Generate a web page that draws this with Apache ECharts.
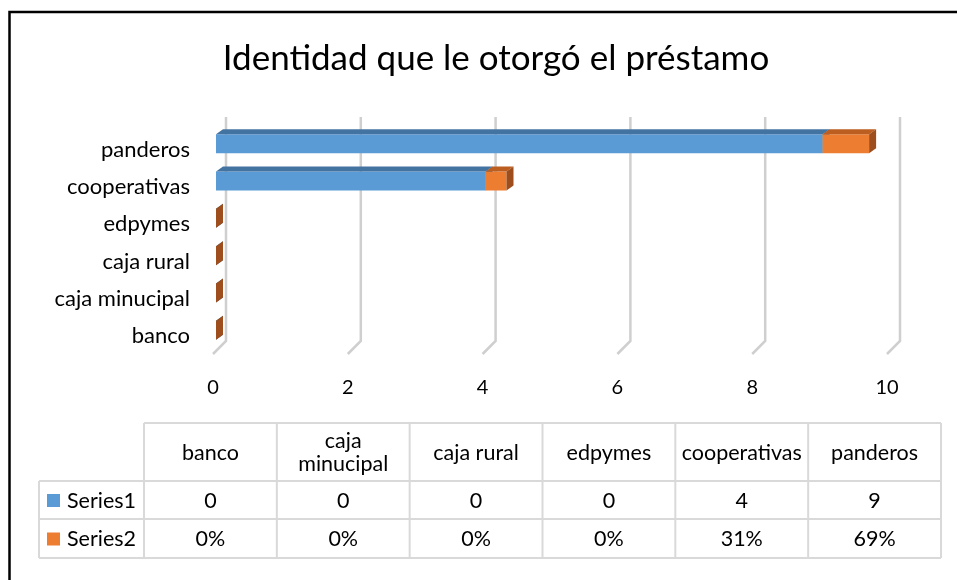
<!DOCTYPE html>
<html>
<head>
<meta charset="utf-8">
<script src="https://cdn.jsdelivr.net/npm/echarts@6/dist/echarts.min.js"></script>
<style>
  html, body { margin: 0; padding: 0; background: #fff; }
  #chart { width: 957px; height: 580px; }
</style>
</head>
<body>
<div id="chart"></div>
<script>
// datos del gráfico
const categories = ["banco", "caja minucipal", "caja rural", "edpymes", "cooperativas", "panderos"];
const tableHeaders = ["banco", "caja\nminucipal", "caja rural", "edpymes", "cooperativas", "panderos"];
const series1 = [0, 0, 0, 0, 4, 9];
const series2 = [0, 0, 0, 0, 0.31, 0.69];
const xTicks = [0, 2, 4, 6, 8, 10];
const seriesNames = ["Series1", "Series2"];

const FONT = "Lato";
const colors = {
  s1: { front: "#5b9bd5", top: "#4374a1", side: "#3d6b96" },
  s2: { front: "#ed7d31", top: "#bb5e20", side: "#9d4e1c" }
};

const chart = echarts.init(document.getElementById("chart"));

// barra 3D: cara frontal + cara superior + lateral
function makeBarRender(c) {
  return function(params, api) {
    const start = api.value(0);
    const end = api.value(1);
    const cat = api.value(2);
    const p0 = api.coord([start, cat]);
    const p1 = api.coord([end, cat]);
    const x0 = p0[0] + 3, x1 = p1[0] + 3;
    const top = p0[1] - 15.5, h = 19, dx = 7, dy = -5;
    return {
      type: "group",
      children: [
        { type: "rect", shape: { x: x0, y: top, width: x1 - x0, height: h }, style: { fill: c.front } },
        { type: "polygon", shape: { points: [[x0, top], [x1, top], [x1 + dx, top + dy], [x0 + dx, top + dy]] }, style: { fill: c.top } },
        { type: "polygon", shape: { points: [[x1, top], [x1 + dx, top + dy], [x1 + dx, top + dy + h], [x1, top + h]] }, style: { fill: c.side } }
      ]
    };
  };
}

// líneas de división en la pared del fondo
function gridRender(params, api) {
  const cs = params.coordSys;
  const p = api.coord([api.value(0), 0]);
  const x = p[0];
  const yb = cs.y + cs.height;
  return {
    type: "polyline",
    shape: { points: [[x + 13, cs.y - 14], [x + 13, yb - 14], [x, yb - 1]] },
    style: { stroke: "#cfcfcf", lineWidth: 2.5, fill: null }
  };
}

// tabla de datos
const tbl = { left: 39, first: 144, right: 941, top: 423, rows: [481, 519, 558] };
const colW = (tbl.right - tbl.first) / categories.length;
const lineStyle = { stroke: "#d9d9d9", lineWidth: 2 };
const tableEls = [];
function hline(x1, x2, y) {
  tableEls.push({ type: "line", shape: { x1, y1: y, x2, y2: y }, style: lineStyle });
}
function vline(x, y1, y2) {
  tableEls.push({ type: "line", shape: { x1: x, y1, x2: x, y2 }, style: lineStyle });
}
function cellText(text, cx, cy, align) {
  tableEls.push({
    type: "text",
    style: { text, x: cx, y: cy, align: align || "center", verticalAlign: "middle", font: "21.5px " + FONT, fill: "#000", lineHeight: 23 }
  });
}
hline(tbl.first, tbl.right, tbl.top);
hline(tbl.left, tbl.right, tbl.rows[0]);
hline(tbl.left, tbl.right, tbl.rows[1]);
hline(tbl.left, tbl.right, tbl.rows[2]);
vline(tbl.left, tbl.rows[0], tbl.rows[2]);
for (let i = 0; i <= categories.length; i++) {
  vline(tbl.first + i * colW, tbl.top, tbl.rows[2]);
}
tableHeaders.forEach((h, i) => {
  cellText(h, tbl.first + (i + 0.5) * colW, (tbl.top + tbl.rows[0]) / 2 + 1);
});
const rowVals = [
  series1.map(v => String(v)),
  series2.map(v => Math.round(v * 100) + "%")
];
const keyColors = [colors.s1.front, colors.s2.front];
rowVals.forEach((vals, r) => {
  const cy = (tbl.rows[r] + tbl.rows[r + 1]) / 2 + 1;
  tableEls.push({ type: "rect", shape: { x: 47, y: cy - 7, width: 13, height: 13 }, style: { fill: keyColors[r] } });
  cellText(seriesNames[r], 67, cy, "left");
  vals.forEach((v, i) => cellText(v, tbl.first + (i + 0.5) * colW, cy));
});

const option = {
  backgroundColor: "#fff",
  animation: false,
  title: {
    text: "Identidad que le otorgó el préstamo",
    left: 491,
    top: 36,
    textAlign: "center",
    textStyle: { fontFamily: FONT, fontSize: 35, fontWeight: "normal", color: "#000" }
  },
  grid: { left: 213, right: 70, top: 131, bottom: 225 },
  xAxis: {
    type: "value",
    min: 0,
    max: 10,
    interval: 2,
    axisLine: { show: false },
    axisTick: { show: false },
    splitLine: { show: false },
    axisLabel: { margin: 23, fontFamily: FONT, fontSize: 20, color: "#000" }
  },
  yAxis: {
    type: "category",
    data: categories,
    axisLine: { show: false },
    axisTick: { show: false },
    axisLabel: { margin: 23, fontFamily: FONT, fontSize: 22, color: "#000" }
  },
  graphic: [
    { type: "polyline", shape: { points: [[9.5, 600], [9.5, 12], [970, 12]] }, style: { stroke: "#000", lineWidth: 2.5, fill: null } },
    { type: "group", children: tableEls }
  ],
  series: [
    {
      type: "custom",
      name: "grid",
      renderItem: gridRender,
      data: xTicks.map(v => [v, 0]),
      encode: { x: 0, y: 1 },
      clip: false,
      silent: true,
      z: 1
    },
    {
      type: "custom",
      name: seriesNames[0],
      renderItem: makeBarRender(colors.s1),
      data: categories.map((c, i) => [0, series1[i], i]),
      encode: { x: [0, 1], y: 2 },
      clip: false,
      z: 2
    },
    {
      type: "custom",
      name: seriesNames[1],
      renderItem: makeBarRender(colors.s2),
      data: categories.map((c, i) => [series1[i], series1[i] + series2[i], i]),
      encode: { x: [0, 1], y: 2 },
      clip: false,
      z: 3
    }
  ]
};

chart.setOption(option);
</script>
</body>
</html>
